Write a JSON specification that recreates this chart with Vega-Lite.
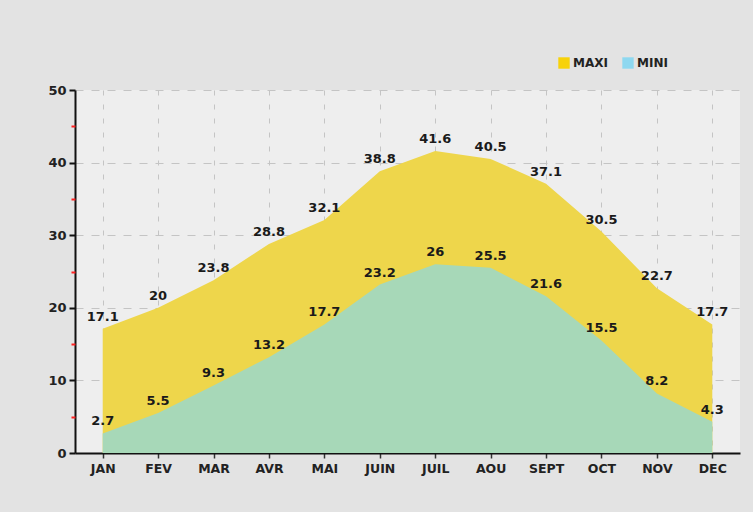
{
  "$schema": "https://vega.github.io/schema/vega-lite/v6.json",
  "width": 665,
  "height": 363,
  "autosize": {"type": "none"},
  "padding": {"left": 75, "top": 90, "right": 13, "bottom": 59},
  "background": "#e3e3e3",
  "config": {
    "view": {"fill": "#eeeeee", "stroke": null},
    "font": "DejaVu Sans"
  },
  "resolve": {"axis": {"y": "independent"}, "scale": {"y": "shared"}},
  "data": {
    "values": [
      {"mois": "JAN", "maxi": 17.1, "mini": 2.7},
      {"mois": "FEV", "maxi": 20, "mini": 5.5},
      {"mois": "MAR", "maxi": 23.8, "mini": 9.3},
      {"mois": "AVR", "maxi": 28.8, "mini": 13.2},
      {"mois": "MAI", "maxi": 32.1, "mini": 17.7},
      {"mois": "JUIN", "maxi": 38.8, "mini": 23.2},
      {"mois": "JUIL", "maxi": 41.6, "mini": 26},
      {"mois": "AOU", "maxi": 40.5, "mini": 25.5},
      {"mois": "SEPT", "maxi": 37.1, "mini": 21.6},
      {"mois": "OCT", "maxi": 30.5, "mini": 15.5},
      {"mois": "NOV", "maxi": 22.7, "mini": 8.2},
      {"mois": "DEC", "maxi": 17.7, "mini": 4.3}
    ]
  },
  "encoding": {
    "x": {
      "field": "mois",
      "type": "ordinal",
      "sort": null,
      "scale": {"type": "point", "padding": 0.5},
      "axis": {
        "title": null,
        "labelAngle": 0,
        "labelFont": "DejaVu Sans",
        "labelFontWeight": "bold",
        "labelFontSize": 12.5,
        "labelColor": "#222222",
        "labelPadding": 4,
        "domainColor": "#111111",
        "domainWidth": 2,
        "tickColor": "#333333",
        "tickSize": 5,
        "tickWidth": 1.5,
        "grid": true,
        "gridColor": "#c4c4c4",
        "gridDash": [5, 9],
        "gridWidth": 1
      }
    }
  },
  "layer": [
    {
      "mark": {"type": "area", "interpolate": "linear", "fill": "#eed64b"},
      "encoding": {
        "y": {
          "field": "maxi",
          "type": "quantitative",
          "scale": {"domain": [0, 50], "nice": false},
          "axis": {
            "title": null,
            "orient": "left",
            "values": [0, 10, 20, 30, 40, 50],
            "labelFont": "DejaVu Sans",
            "labelFontWeight": "bold",
            "labelFontSize": 13,
            "labelColor": "#222222",
            "labelPadding": 3,
            "domainColor": "#111111",
            "domainWidth": 2,
            "tickColor": "#111111",
            "tickWidth": 2,
            "tickSize": 6,
            "grid": true,
            "gridColor": "#c4c4c4",
            "gridDash": [8, 8],
            "gridWidth": 1
          }
        }
      }
    },
    {
      "mark": {"type": "area", "interpolate": "linear", "fill": "#a7d8b8"},
      "encoding": {
        "y": {
          "field": "mini",
          "type": "quantitative",
          "axis": {
            "title": null,
            "orient": "left",
            "values": [5, 15, 25, 35, 45],
            "labels": false,
            "domain": false,
            "grid": false,
            "tickColor": "#ff2020",
            "tickWidth": 2,
            "tickSize": 4,
            "offset": 0
          }
        }
      }
    },
    {
      "mark": {"type": "text", "font": "DejaVu Sans", "fontWeight": "bold", "fontSize": 13, "color": "#1a1a1a", "baseline": "bottom", "dy": -5},
      "encoding": {"y": {"field": "maxi", "type": "quantitative", "axis": null}, "text": {"field": "maxi"}}
    },
    {
      "mark": {"type": "text", "font": "DejaVu Sans", "fontWeight": "bold", "fontSize": 13, "color": "#1a1a1a", "baseline": "bottom", "dy": -5},
      "encoding": {"y": {"field": "mini", "type": "quantitative", "axis": null}, "text": {"field": "mini"}}
    },
    {
      "transform": [{"fold": ["maxi", "mini"], "as": ["serie", "valeur"]}],
      "mark": {"type": "point", "shape": "square", "filled": true, "opacity": 0},
      "encoding": {
        "y": {"field": "valeur", "type": "quantitative", "axis": null},
        "color": {
          "field": "serie",
          "type": "nominal",
          "scale": {"domain": ["maxi", "mini"], "range": ["#f7d20a", "#8ed8f0"]},
          "legend": {
            "title": null,
            "orient": "none",
            "legendX": 483,
            "legendY": -33,
            "direction": "horizontal",
            "symbolType": "square",
            "symbolSize": 130,
            "symbolOpacity": 1,
            "symbolStrokeWidth": 0,
            "labelExpr": "upper(datum.label)",
            "labelFont": "DejaVu Sans",
            "labelFontWeight": "bold",
            "labelFontSize": 12,
            "labelColor": "#222222",
            "columnPadding": 14,
            "labelOffset": 3
          }
        }
      }
    }
  ]
}
